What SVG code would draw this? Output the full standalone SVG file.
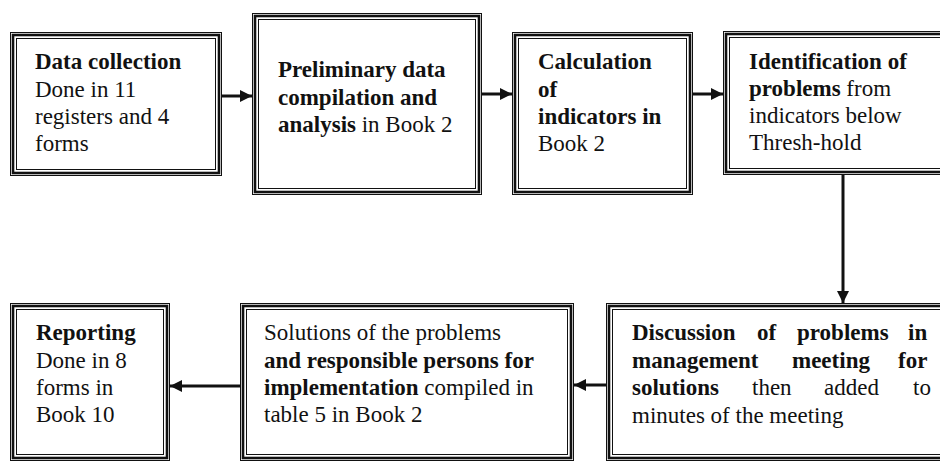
<svg xmlns="http://www.w3.org/2000/svg" width="940" height="461" viewBox="0 0 940 461">
<defs>
<style>
rect{fill:none;stroke:#111}
.bg{fill:#fff;stroke:none}
.o{stroke-width:1}
.m{stroke-width:2.6}
.i{stroke-width:1}
text{font-family:"Liberation Serif","Times New Roman",serif;font-size:23px;fill:#111}
.b{font-weight:bold}
.c{stroke:#111;stroke-width:3;fill:none}
</style>
<marker id="ah" viewBox="0 0 10 10" refX="10" refY="5" markerWidth="4" markerHeight="4" markerUnits="strokeWidth" orient="auto">
<path d="M0,0 L10,5 L0,10 z" fill="#111"/>
</marker>
</defs>
<rect class="bg" x="0" y="0" width="940" height="461"/>
<g id="n1">
<rect class="o" x="10.5" y="32.5" width="211" height="143"/>
<rect class="m" x="13" y="35" width="206" height="138"/>
<rect class="i" x="16.5" y="38.5" width="199" height="131"/>
<text x="35" y="69"><tspan class="b">Data collection</tspan><tspan x="35" y="96.5">Done in 11</tspan><tspan x="35" y="124">registers and 4</tspan><tspan x="35" y="150.5">forms</tspan></text>
</g>
<g id="n2">
<rect class="o" x="252.5" y="13.5" width="229" height="181"/>
<rect class="m" x="255" y="16" width="224" height="176"/>
<rect class="i" x="258.5" y="19.5" width="217" height="169"/>
<text x="278" y="77"><tspan class="b">Preliminary data</tspan><tspan x="278" y="104.5" class="b">compilation and</tspan><tspan x="278" y="132"><tspan class="b">analysis</tspan> in Book 2</tspan></text>
</g>
<g id="n3">
<rect class="o" x="512.5" y="32.5" width="180" height="162"/>
<rect class="m" x="515" y="35" width="175" height="157"/>
<rect class="i" x="518.5" y="38.5" width="168" height="150"/>
<text x="538" y="69"><tspan class="b">Calculation</tspan><tspan x="538" y="96.5" class="b">of</tspan><tspan x="538" y="123.5" class="b">indicators in</tspan><tspan x="538" y="150.5">Book 2</tspan></text>
</g>
<g id="n4">
<rect class="o" x="723.5" y="31.5" width="240" height="143"/>
<rect class="m" x="726" y="34" width="235" height="138"/>
<rect class="i" x="729.5" y="37.5" width="228" height="131"/>
<text x="749" y="69"><tspan class="b">Identification of</tspan><tspan x="749" y="96"><tspan class="b">problems</tspan> from</tspan><tspan x="749" y="123">indicators below</tspan><tspan x="749" y="150">Thresh-hold</tspan></text>
</g>
<g id="n5">
<rect class="o" x="606.5" y="303.5" width="360" height="157"/>
<rect class="m" x="609" y="306" width="355" height="152"/>
<rect class="i" x="612.5" y="309.5" width="348" height="145"/>
<text y="340" class="b"><tspan x="632">Discussion</tspan><tspan x="757">of</tspan><tspan x="797">problems</tspan><tspan x="908">in</tspan></text>
<text y="368" class="b"><tspan x="632">management</tspan><tspan x="792">meeting</tspan><tspan x="898">for</tspan></text>
<text y="395"><tspan x="632" class="b">solutions</tspan><tspan x="752">then</tspan><tspan x="824">added</tspan><tspan x="913">to</tspan></text>
<text x="632" y="423">minutes of the meeting</text>
</g>
<g id="n6">
<rect class="o" x="240.5" y="303.5" width="333" height="157"/>
<rect class="m" x="243" y="306" width="328" height="152"/>
<rect class="i" x="246.5" y="309.5" width="321" height="145"/>
<text x="264" y="340">Solutions of the problems<tspan x="264" y="368" class="b">and responsible persons for</tspan><tspan x="264" y="395"><tspan class="b">implementation</tspan> compiled in</tspan><tspan x="264" y="422">table 5 in Book 2</tspan></text>
</g>
<g id="n7">
<rect class="o" x="10.5" y="303.5" width="159" height="157"/>
<rect class="m" x="13" y="306" width="154" height="152"/>
<rect class="i" x="16.5" y="309.5" width="147" height="145"/>
<text x="36" y="340"><tspan class="b">Reporting</tspan><tspan x="36" y="368">Done in 8</tspan><tspan x="36" y="395">forms in</tspan><tspan x="36" y="422">Book 10</tspan></text>
</g>
<g id="connectors">
<line class="c" x1="222" y1="96" x2="252" y2="96" marker-end="url(#ah)"/>
<line class="c" x1="482" y1="94" x2="512" y2="94" marker-end="url(#ah)"/>
<line class="c" x1="693" y1="94" x2="723" y2="94" marker-end="url(#ah)"/>
<line class="c" x1="843" y1="175" x2="843" y2="303" marker-end="url(#ah)"/>
<line class="c" x1="606" y1="385" x2="574" y2="385" marker-end="url(#ah)"/>
<line class="c" x1="240" y1="386" x2="170" y2="386" marker-end="url(#ah)"/>
</g>
</svg>
